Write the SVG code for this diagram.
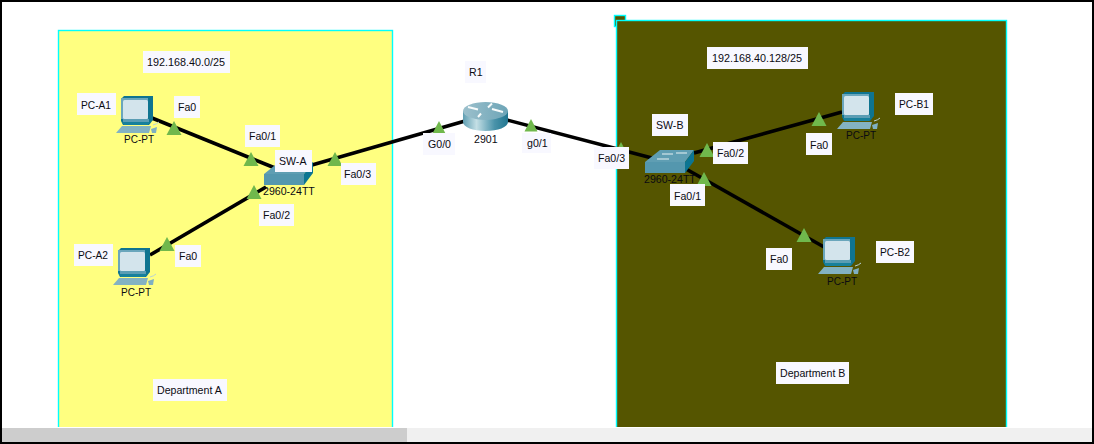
<svg xmlns="http://www.w3.org/2000/svg" xmlns:xlink="http://www.w3.org/1999/xlink" width="1094" height="444" viewBox="0 0 1094 444">
<style>
text{font-family:"Liberation Sans",Arial,sans-serif;font-size:10.6px;fill:#0a0a12}
text.pt{font-size:10px}
text.nm{font-size:10.2px}
text.net{font-size:10.8px}
.bg{fill:#f8f8ff}
.link{stroke:#000;stroke-width:3.6;fill:none;stroke-linecap:butt}
.tri{fill:#70b84c}
.area{stroke:#00ffff;stroke-width:1.4}
</style>
<defs>
<linearGradient id="rg" x1="0" x2="1" y1="0" y2="0"><stop offset="0" stop-color="#5f9eb2"/><stop offset=".3" stop-color="#c4dfe5"/><stop offset=".7" stop-color="#4a93aa"/><stop offset="1" stop-color="#217690"/></linearGradient>
<linearGradient id="rt" x1="0" x2="1" y1="0" y2="0"><stop offset="0" stop-color="#9cc0cc"/><stop offset="1" stop-color="#6da5b7"/></linearGradient>
<g id="pc">
<path d="M5 3 8 0H37V24L33 29H7L5 25Z" fill="#0f7490"/>
<path d="M5 2H32V23H5Z" fill="#6aa6bc"/>
<rect x="7" y="4" width="25" height="19" rx="1.500" fill="#d3e4ec"/>
<path d="M7 23H33V26H7Z" fill="#5a9db4"/>
<path d="M6 26H34L32 29H8Z" fill="#17809c"/>
<path d="M6 30H35L33 37H0Z" fill="#83b2c3"/>
<path d="M35 33 41 31 40 37H36Z" fill="#7fb0c2"/>
<path d="M37 29Q41 28 43 26" stroke="#b9d2d6" fill="none" stroke-width="1"/>
</g>
<g id="sw">
<path d="M0 12 15 0H49L40 12Z" fill="#5f9eb3"/>
<path d="M40 12 49 0V11L40 23Z" fill="#0c7592"/>
<rect y="12" width="40" height="11" fill="#5497ae"/>
<path d="M17 4H28M31 3H42M12 9H24" stroke="#e8f2f4" stroke-width="1.200"/>
</g>
<path id="t" d="M0 0 7.500 14H-7.500Z"/>
<path id="ts" d="M0 0 6.500 12.500H-6.500Z"/>
</defs>

<rect x="0" y="0" width="1094" height="444" fill="#fff"/>
<g id="area-a"><rect class="area" x="58.500" y="30.500" width="334" height="400" fill="#ffff80"/></g>
<g id="area-b">
<rect class="area" x="614.500" y="15.500" width="11" height="11" fill="#555500"/>
<rect class="area" x="616.500" y="20.500" width="390" height="410" fill="#555500"/>
</g>

<g id="connectors">
<path class="link" d="M152 118 275 168"/>
<path class="link" d="M150 255 266 187"/>
<path class="link" d="M312 165 465 121"/>
<path class="link" d="M507 120 652 158"/>
<path class="link" d="M694 153 842 112"/>
<path class="link" d="M686 169 824 247"/>
<g class="tri">
<use xlink:href="#t" href="#t" x="174" y="121"/>
<use xlink:href="#t" href="#t" x="251" y="152"/>
<use xlink:href="#t" href="#t" x="335" y="152"/>
<use xlink:href="#t" href="#t" x="254" y="185"/>
<use xlink:href="#t" href="#t" x="167" y="237"/>
<use xlink:href="#ts" href="#ts" x="439" y="121"/>
<use xlink:href="#ts" href="#ts" x="531" y="119"/>
<use xlink:href="#ts" href="#ts" x="621" y="142"/>
<use xlink:href="#t" href="#t" x="707" y="143"/>
<use xlink:href="#t" href="#t" x="704" y="172"/>
<use xlink:href="#t" href="#t" x="819" y="112"/>
<use xlink:href="#t" href="#t" x="804" y="228"/>
</g>
</g>

<g id="net-a"><rect class="bg" x="143" y="51" width="87" height="22"/><text class="net" x="147" y="66">192.168.40.0/25</text></g>
<g id="net-b"><rect class="bg" x="707" y="47" width="101" height="22"/><text class="net" x="712" y="62">192.168.40.128/25</text></g>
<g id="dept-a"><rect class="bg" x="153" y="379" width="74" height="22"/><text x="157" y="394">Department A</text></g>
<g id="dept-b"><rect class="bg" x="776" y="362" width="73" height="22"/><text x="780" y="377">Department B</text></g>

<g id="pc-a1">
<use xlink:href="#pc" href="#pc" x="116" y="96"/>
<text class="pt" x="124" y="143">PC-PT</text>
<rect class="bg" x="77" y="93" width="39" height="22"/><text class="nm" x="81" y="109">PC-A1</text>
</g>
<g id="pc-a2">
<use xlink:href="#pc" href="#pc" x="113" y="248"/>
<text class="pt" x="121" y="296">PC-PT</text>
<rect class="bg" x="74" y="244" width="39" height="22"/><text class="nm" x="78" y="259">PC-A2</text>
</g>
<g id="sw-a">
<use xlink:href="#sw" href="#sw" x="264" y="162"/>
<text x="263" y="195">2960-24TT</text>
<rect class="bg" x="275" y="150" width="37" height="22"/><text x="279" y="165">SW-A</text>
</g>
<g id="r1">
<path d="M463 111V122C463 127 473 131 485.500 131S508 127 508 122V111Z" fill="url(#rg)"/>
<ellipse cx="485.500" cy="111" rx="22.500" ry="9" fill="url(#rt)"/>
<path d="M468 107 478 109.500M492 103.500 488 107.500M492 109 503 112M481 113.500 478 117" stroke="#f7fbfb" stroke-width="2" fill="none"/>
<rect class="bg" x="465" y="61" width="21" height="22"/><text x="469" y="76">R1</text>
<text x="474" y="143">2901</text>
</g>
<g id="sw-b">
<use xlink:href="#sw" href="#sw" x="645" y="150"/>
<text x="644" y="183">2960-24TT</text>
<rect class="bg" x="652" y="114" width="36" height="22"/><text x="656" y="129">SW-B</text>
</g>
<g id="pc-b1">
<use xlink:href="#pc" href="#pc" x="837" y="92"/>
<text class="pt" x="846" y="139">PC-PT</text>
<rect class="bg" x="895" y="93" width="38" height="22"/><text class="nm" x="899" y="108">PC-B1</text>
</g>
<g id="pc-b2">
<use xlink:href="#pc" href="#pc" x="818" y="237"/>
<text class="pt" x="827" y="285">PC-PT</text>
<rect class="bg" x="876" y="241" width="38" height="22"/><text class="nm" x="880" y="256">PC-B2</text>
</g>

<g id="port-labels">
<rect class="bg" x="174" y="96" width="26" height="22"/><text x="178" y="111">Fa0</text>
<rect class="bg" x="245" y="125" width="35" height="22"/><text x="249" y="140">Fa0/1</text>
<rect class="bg" x="341" y="163" width="35" height="22"/><text x="344" y="178">Fa0/3</text>
<rect class="bg" x="259" y="204" width="35" height="22"/><text x="263" y="219">Fa0/2</text>
<rect class="bg" x="175" y="245" width="26" height="22"/><text x="179" y="260">Fa0</text>
<rect class="bg" x="423" y="133" width="32" height="22"/><text x="428" y="148">G0/0</text>
<rect class="bg" x="522" y="133" width="29" height="20"/><text x="527" y="147">g0/1</text>
<rect class="bg" x="594" y="147" width="35" height="22"/><text x="598" y="162">Fa0/3</text>
<rect class="bg" x="713" y="142" width="35" height="22"/><text x="717" y="157">Fa0/2</text>
<rect class="bg" x="670" y="184" width="35" height="22"/><text x="674" y="200">Fa0/1</text>
<rect class="bg" x="806" y="133" width="26" height="22"/><text x="810" y="149">Fa0</text>
<rect class="bg" x="766" y="248" width="26" height="22"/><text x="770" y="263">Fa0</text>
</g>

<g id="frame">
<rect y="427" x="0" width="1094" height="17" fill="#fff"/>
<rect x="2" y="428" width="1090" height="14" fill="#f0f0f0"/>
<rect x="2" y="428" width="405" height="14" fill="#cdcdcd"/>
<rect x="1" y="1" width="1092" height="442" fill="none" stroke="#000" stroke-width="2"/>
</g>
</svg>
